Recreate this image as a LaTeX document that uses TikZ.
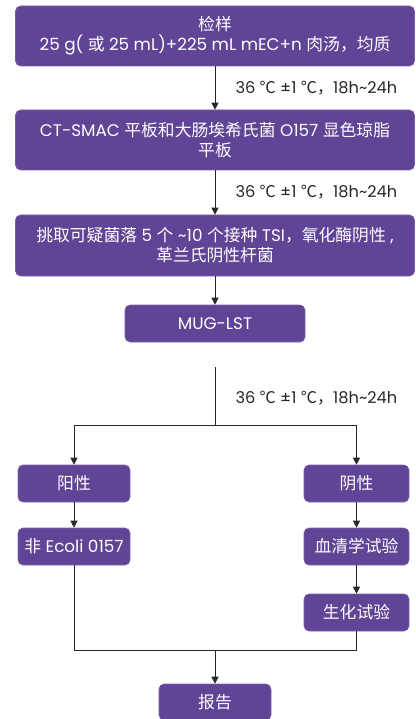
\documentclass[tikz,border=0pt]{standalone}
\usepackage{fontspec}
\setmainfont{Poppins}
\newfontfamily\cjk{Noto Sans CJK SC}
\newcommand{\cj}[1]{{\cjk #1}}
\usetikzlibrary{arrows.meta}
\definecolor{boxpurple}{RGB}{96,69,150}
\definecolor{linegray}{RGB}{40,40,40}

\tikzset{
  stepbox/.style={fill=boxpurple, draw=boxpurple!85!white, line width=0.6pt,
    rounded corners=5pt, text=white, align=center, inner sep=0pt,
    font=\fontsize{16.8}{20}\selectfont},
  flow/.style={draw=linegray, line width=0.8pt},
  flowarrow/.style={flow, -{Triangle[width=7pt,length=7pt]}},
  temp/.style={anchor=west, font=\fontsize{16.2}{18}\selectfont, text=linegray}
}

\begin{document}
\begin{tikzpicture}[x=1pt, y=1pt]
\useasboundingbox (0,0) rectangle (415,-719);

% main column
\node[stepbox, minimum width=399pt, minimum height=60pt] (sample) at (215,-36)
  {\cj{检样}\\25 g( \cj{或} 25 mL)+225 mL mEC+n \cj{肉汤，均质}};
\node[stepbox, minimum width=399pt, minimum height=60pt] (plate) at (215,-140)
  {CT-SMAC \cj{平板和大肠埃希氏菌} O157 \cj{显色琼脂}\\\cj{平板}};
\node[stepbox, minimum width=399pt, minimum height=61pt] (pick) at (215,-245.5)
  {\cj{挑取可疑菌落} 5 \cj{个} \textasciitilde10 \cj{个接种} TSI\cj{，氧化酶阴性} ,\\\cj{革兰氏阴性杆菌}};
\node[stepbox, minimum width=180pt, minimum height=37pt] (mug) at (215,-323.5) {MUG-LST};

% branches
\node[stepbox, minimum width=112pt, minimum height=37pt] (pos) at (74,-483.5) {\cj{阳性}};
\node[stepbox, minimum width=105pt, minimum height=37pt] (neg) at (356.5,-483.5) {\cj{阴性}};
\node[stepbox, minimum width=112pt, minimum height=37pt] (nonecoli) at (74,-546.5) {\cj{非} Ecoli 0157};
\node[stepbox, minimum width=105pt, minimum height=37pt] (serum) at (356.5,-546.5) {\cj{血清学试验}};
\node[stepbox, minimum width=105pt, minimum height=37pt] (biochem) at (356.5,-612.5) {\cj{生化试验}};
\node[stepbox, minimum width=112pt, minimum height=36pt] (report) at (215,-702) {\cj{报告}};

\coordinate (split) at (215,-367);
\coordinate (fork) at (215,-425);
\coordinate (join) at (215,-650);

\draw[flowarrow] (sample) -- (plate);
\draw[flowarrow] (plate) -- (pick);
\draw[flowarrow] (pick) -- (mug);
\node[temp] (t1) at (232,-88) {36 \cj{℃} ±1 \cj{℃，}18h\textasciitilde24h};
\node[temp] (t2) at (232,-192) {36 \cj{℃} ±1 \cj{℃，}18h\textasciitilde24h};
\node[temp] (t3) at (232,-398) {36 \cj{℃} ±1 \cj{℃，}18h\textasciitilde24h};

\draw[flow] (split) -- (fork);
\draw[flowarrow] (fork) -| (pos);
\draw[flowarrow] (fork) -| (neg);
\draw[flowarrow] (pos) -- (nonecoli);
\draw[flowarrow] (neg) -- (serum);
\draw[flowarrow] (serum) -- (biochem);
\draw[flow] (nonecoli) |- (join);
\draw[flow] (biochem) |- (join);
\draw[flowarrow] (join) -- (report);
\end{tikzpicture}
\end{document}
